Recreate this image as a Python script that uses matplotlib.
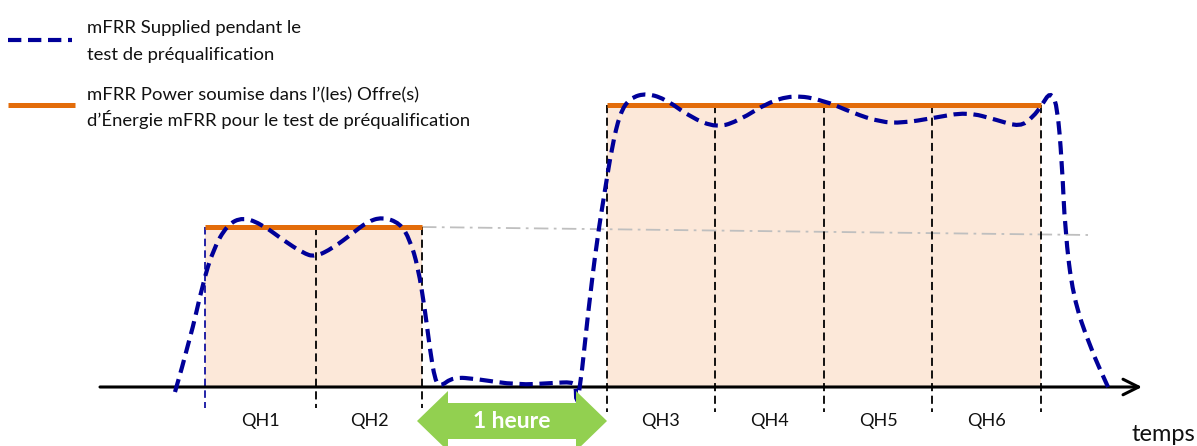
import matplotlib.pyplot as plt
import numpy as np
from matplotlib.patches import PathPatch, Polygon, Rectangle
from matplotlib.path import Path

# diagram drawn in pixel units (x right, y down)
axis_y = 387
axis_x = (100, 1142)

qh_labels = ["QH1", "QH2", "QH3", "QH4", "QH5", "QH6"]
block1_edges = [205, 316, 422]
block2_edges = [607, 715, 824, 932, 1041]
block1_power = 227
block2_power = 105

# baseline trend line between the two offers
trend_x = [422, 1088]
trend_y = [227, 235]

# mFRR supplied (dashed blue)
supplied_x = [175, 190, 203, 213, 227, 243, 263, 283, 303, 315, 333, 353, 367,
              382, 400, 410, 418, 425, 430, 435, 440, 453, 477, 517, 553, 572,
              576, 576, 580, 588, 597, 605, 612, 620, 630, 647, 667, 690, 717,
              740, 767, 793, 823, 853, 880, 903, 933, 967, 997, 1020, 1033,
              1042, 1050, 1057, 1062, 1065, 1073, 1090, 1108]
supplied_y = [392, 340, 283, 250, 225, 217, 225, 240, 253, 257, 248, 233, 222,
              217, 223, 240, 267, 310, 350, 380, 387, 377, 379, 385, 383, 382,
              386, 403, 390, 313, 240, 190, 147, 113, 98, 93, 100, 117, 128,
              120, 103, 95, 100, 113, 122, 123, 118, 112, 120, 127, 117,
              105, 92, 103, 163, 230, 297, 347, 387]

hour_x = (417, 607)
hour_y = 421

BLUE = "#000099"
ORANGE = "#E36C0A"
PEACH = "#FCE8D9"
GREEN = "#92D050"
GREY = "#BFBFBF"
TEXT = "#111111"

plt.rcParams["font.family"] = ["Lato", "DejaVu Sans"]


def smooth_path(xs, ys):
    # quadratic bezier through the midpoints, the read points act as controls
    pts = np.column_stack([xs, ys]).astype(float)
    verts = [pts[0]]
    codes = [Path.MOVETO]
    for i in range(1, len(pts) - 1):
        mid = (pts[i] + pts[i + 1]) / 2
        verts += [pts[i], mid]
        codes += [Path.CURVE3, Path.CURVE3]
    verts.append(pts[-1])
    codes.append(Path.LINETO)
    return Path(verts, codes)


fig = plt.figure(figsize=(11.97, 4.46), dpi=100)
ax = fig.add_axes([0, 0, 1, 1])
ax.set_xlim(0, 1197)
ax.set_ylim(446, 0)
ax.axis("off")

# shaded offer blocks
for edges, level in [(block1_edges, block1_power), (block2_edges, block2_power)]:
    ax.add_patch(Rectangle((edges[0], level), edges[-1] - edges[0], axis_y - level,
                           facecolor=PEACH, edgecolor="none", zorder=1))
    ax.plot([edges[0], edges[-1]], [level, level], color=ORANGE, lw=3.6,
            solid_capstyle="butt", zorder=4)

ax.plot(trend_x, trend_y, color=GREY, lw=1.3, ls=(0, (8, 3, 1.5, 3)), zorder=2)

# quarter-hour separators
dash = (0, (4.5, 2.5))
ax.plot([block1_edges[0]] * 2, [block1_power, 408], color=BLUE, lw=1.2, ls=dash, zorder=3)
for x in block1_edges[1:]:
    ax.plot([x, x], [block1_power, 408], color="black", lw=1.3, ls=dash, zorder=3)
for x in block2_edges:
    ax.plot([x, x], [block2_power, 412], color="black", lw=1.3, ls=dash, zorder=3)

# QH labels centred in each quarter hour
centres = [(a + b) / 2 for a, b in zip(block1_edges[:-1], block1_edges[1:])]
centres += [(a + b) / 2 for a, b in zip(block2_edges[:-1], block2_edges[1:])]
for c, lab in zip(centres, qh_labels):
    ax.text(c, 426, lab, ha="center", va="baseline", fontsize=13, color=TEXT)

# time axis
ax.annotate("", xy=(axis_x[1], axis_y), xytext=(axis_x[0], axis_y),
            arrowprops=dict(arrowstyle="->", lw=2.2, color="black",
                            mutation_scale=28, shrinkA=0, shrinkB=0), zorder=5)
ax.text(1195, 441, "temps", ha="right", va="baseline", fontsize=17, color=TEXT)

ax.add_patch(PathPatch(smooth_path(supplied_x, supplied_y), facecolor="none",
                       edgecolor=BLUE, lw=3.0, ls=(0, (3.2, 1.6)), zorder=6))

# 1 heure double arrow
head, half_body, half_head = 31, 18, 30
x0, x1 = hour_x
arrow = np.array([
    [x0, hour_y], [x0 + head, hour_y - half_head], [x0 + head, hour_y - half_body],
    [x1 - head, hour_y - half_body], [x1 - head, hour_y - half_head], [x1, hour_y],
    [x1 - head, hour_y + half_head], [x1 - head, hour_y + half_body],
    [x0 + head, hour_y + half_body], [x0 + head, hour_y + half_head],
])
ax.add_patch(Polygon(arrow, closed=True, facecolor=GREEN, edgecolor="none", zorder=7))
ax.text((x0 + x1) / 2, hour_y + 1, "1 heure", ha="center", va="center",
        fontsize=16.5, fontweight="bold", color="white", zorder=8)

# legend
ax.plot([8, 72], [40, 40], color=BLUE, lw=3.0, ls=(0, (3.2, 1.6)))
ax.plot([8, 75], [105, 105], color=ORANGE, lw=3.6, solid_capstyle="butt")
legend_lines = [
    (33, "mFRR Supplied pendant le"),
    (60, "test de préqualification"),
    (100, "mFRR Power soumise dans l’(les) Offre(s)"),
    (126, "d’Énergie mFRR pour le test de préqualification"),
]
for base, txt in legend_lines:
    ax.text(87, base, txt, ha="left", va="baseline", fontsize=13.3, color=TEXT)

fig.savefig("out.png", dpi=100)
